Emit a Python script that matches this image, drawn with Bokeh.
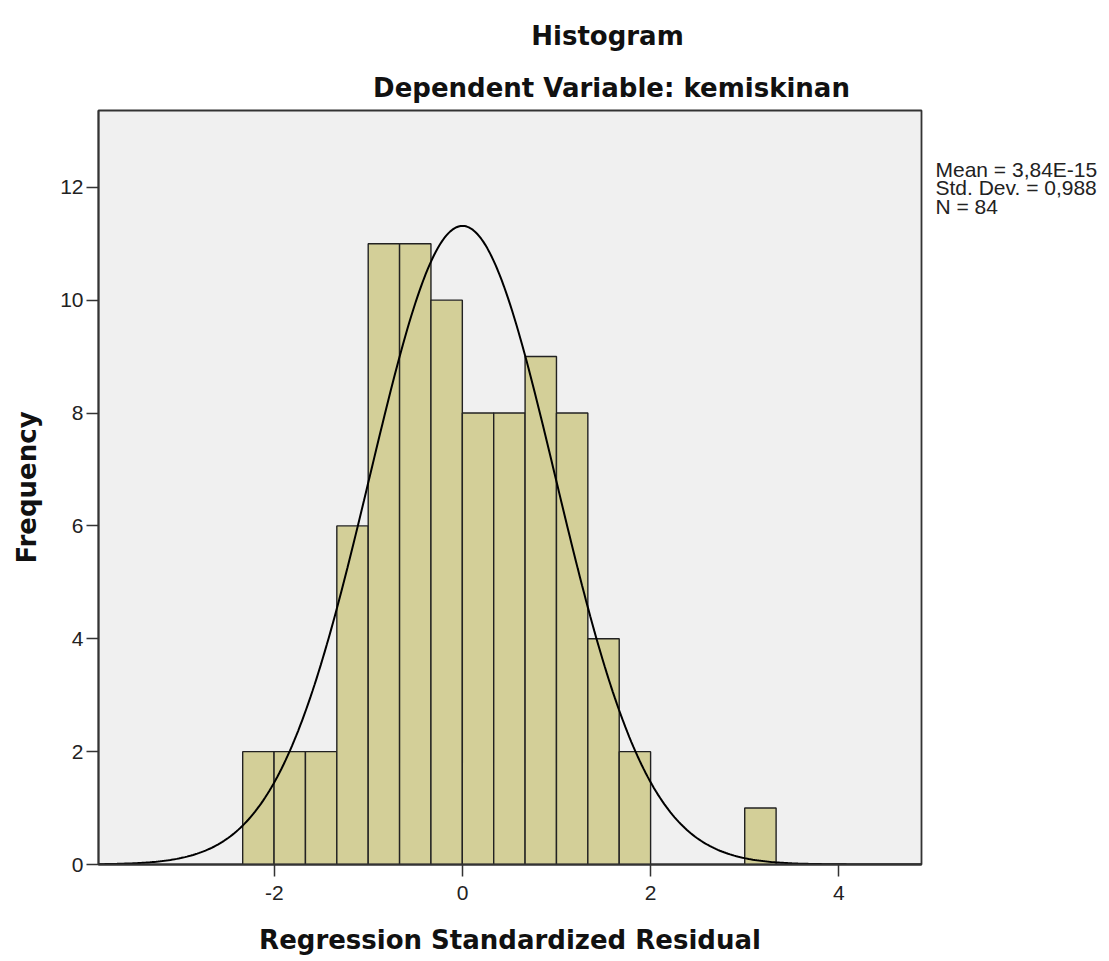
import math
from bokeh.plotting import figure
from bokeh.layouts import column, row
from bokeh.models import Range1d, FixedTicker
from bokeh.core.properties import value
from bokeh.embed import file_html
from bokeh.resources import INLINE

# ---- data ----
bin_start = -2.337
bin_width = 0.3336
counts = [2, 2, 2, 6, 11, 11, 10, 8, 8, 9, 8, 4, 2, 0, 0, 0, 1]
mean = 3.84e-15
std_dev = 0.988
n_obs = 84
x_ticks = [-2, 0, 2, 4]
x_tick_labels = ["-2", "0", "2", "4"]
y_ticks = [0, 2, 4, 6, 8, 10, 12]
stats_lines = ["Mean = 3,84E-15", "Std. Dev. = 0,988", "N = 84"]
title_main = "Histogram"
title_sub = "Dependent Variable: kemiskinan"
x_label = "Regression Standardized Residual"
y_label = "Frequency"

BOLD_FONT = "DejaVu Sans"
FONT = "Liberation Sans"

TOTAL_W, TOTAL_H = 1105, 957
TOP_H = 108
MAIN_W = 925
LOW_H = TOTAL_H - TOP_H

# ---- title strip (pixel coordinates) ----
top = figure(width=TOTAL_W, height=TOP_H, x_range=Range1d(0, TOTAL_W), y_range=Range1d(TOP_H, 0),
             x_axis_type=None, y_axis_type=None, output_backend="svg", toolbar_location=None,
             min_border=0, outline_line_color=None)
top.text(x=[607, 611], y=[35, 87], text=[title_main, title_sub],
         text_align="center", text_baseline="alphabetic",
         text_font=value(BOLD_FONT), text_font_style="bold", text_font_size="26px",
         text_color="#111111")

# ---- main histogram ----
lefts, rights, tops = [], [], []
for i, c in enumerate(counts):
    if c > 0:
        lefts.append(bin_start + i * bin_width)
        rights.append(bin_start + (i + 1) * bin_width)
        tops.append(c)

x0, x1 = -3.87, 4.88
p = figure(width=MAIN_W, height=LOW_H, x_range=Range1d(x0, x1), y_range=Range1d(0, 13.36),
           output_backend="svg", toolbar_location=None,
           min_border_left=98, min_border_right=4, min_border_top=2, min_border_bottom=93)

p.background_fill_color = "#f0f0f0"
p.border_fill_color = "white"
p.outline_line_color = "#333333"
p.outline_line_width = 1.8
p.xgrid.grid_line_color = None
p.ygrid.grid_line_color = None

p.quad(left=lefts, right=rights, top=tops, bottom=0,
       fill_color="#d3cf98", line_color="#222222", line_width=1.4)

xs = [x0 + (x1 - x0) * k / 400 for k in range(401)]
scale = n_obs * bin_width / (std_dev * math.sqrt(2 * math.pi))
ys = [scale * math.exp(-0.5 * ((x - mean) / std_dev) ** 2) for x in xs]
p.line(xs, ys, line_color="black", line_width=2)

for ax in (p.xaxis[0], p.yaxis[0]):
    ax.axis_line_color = "#333333"
    ax.axis_line_width = 1.8
    ax.major_tick_line_color = "#333333"
    ax.major_tick_line_width = 1.5
    ax.major_tick_out = 12
    ax.major_tick_in = 0
    ax.minor_tick_line_color = None
    ax.major_label_text_font = FONT
    ax.major_label_text_font_size = "21px"
    ax.major_label_text_color = "#222222"
    ax.axis_label_text_font = BOLD_FONT
    ax.axis_label_text_font_style = "bold"
    ax.axis_label_text_font_size = "26px"
    ax.axis_label_text_color = "#111111"

p.xaxis[0].ticker = FixedTicker(ticks=x_ticks)
p.xaxis[0].major_label_overrides = {t: s for t, s in zip(x_ticks, x_tick_labels)}
p.yaxis[0].ticker = FixedTicker(ticks=y_ticks)
p.xaxis[0].axis_label = x_label
p.yaxis[0].axis_label = y_label
p.xaxis[0].major_label_standoff = 9
p.yaxis[0].major_label_standoff = 3
p.xaxis[0].axis_label_standoff = 22
p.yaxis[0].axis_label_standoff = 15

# ---- statistics box on the right (pixel coordinates) ----
side = figure(width=TOTAL_W - MAIN_W, height=LOW_H,
              x_range=Range1d(MAIN_W, TOTAL_W), y_range=Range1d(TOTAL_H, TOP_H),
              x_axis_type=None, y_axis_type=None, output_backend="svg",
              toolbar_location=None, min_border=0, outline_line_color=None)
side.text(x=[935, 935, 935], y=[174, 195, 216], text=stats_lines,
          text_align="left", text_baseline="alphabetic",
          text_font=value(FONT), text_font_size="21px", text_color="#222222")

layout = column(top, row(p, side))
open("out.html", "w").write(file_html(layout, INLINE))
